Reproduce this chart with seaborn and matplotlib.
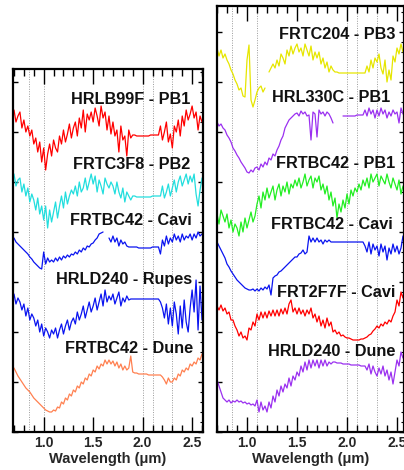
import numpy as np
import pandas as pd
import matplotlib
matplotlib.use("Agg")
import matplotlib.pyplot as plt
from matplotlib.ticker import MultipleLocator
import seaborn as sns

# Every spectrum is sampled evenly from wl_start to wl_stop (um), 0.02 um step
wl_start, wl_stop = 0.70, 2.60

# ---- left panel: stacked spectra (offset reflectance, arbitrary units) ----
hrlb99f_pb1 = [322, 310, 316, 320, 304, 312, 300, 306, 296, 302,
               288, 294, 280, 290, 270, 284, 262, 278, 288, 276,
               292, 284, 280, 296, 288, 302, 290, 298, 308, 294,
               304, 310, 296, 314, 304, 322, 300, 318, 312, 320,
               310, 324, 316, 306, 326, 314, 320, 302, 316, 298,
               310, 296, 302, 280, 306, 292, 296, 276, 302, 294,
               297, 297, 296, 296, 296, 296, 296, 296, 296, 297,
               297, 297, 297, 297, 306, 292, 300, 310, 290, 298,
               284, 306, 300, 312, 296, 316, 306, 322, 312, 318,
               326, 314, 320, 302, 316, 310]
frtc3f8_pb2 = [258, 246, 252, 254, 240, 248, 236, 244, 230, 238,
               232, 222, 234, 218, 226, 212, 226, 204, 222, 210,
               220, 230, 214, 226, 236, 224, 240, 228, 236, 242,
               238, 246, 236, 250, 240, 244, 254, 242, 250, 258,
               248, 256, 240, 252, 246, 238, 254, 248, 244, 250,
               246, 238, 250, 240, 234, 244, 230, 240, 236, 232,
               236, 236, 235, 235, 235, 235, 235, 235, 235, 235,
               236, 236, 236, 236, 236, 246, 234, 240, 248, 236,
               244, 252, 240, 250, 256, 246, 252, 258, 248, 256,
               250, 258, 238, 226, 242, 254]
frtbc42_cavi_l = [194, 190, 188, 186, 184, 182, 180, 178, 175, 173,
                  170, 168, 166, 164, 163, 180, 168, 174, 170, 172,
                  170, 174, 171, 175, 172, 176, 174, 177, 175, 178,
                  177, 180, 178, 182, 180, 184, 182, 186, 185, 188,
                  189, 192, 194, 198, 199, 200, np.nan, np.nan, 194, 190,
                  196, 190, 194, 186, 192, 188, 190, 186, 185, 185,
                  185, 185, 185, 184, 184, 184, 184, 184, 184, 184,
                  185, 185, 185, 185, 178, 192, 186, 196, 188, 194,
                  190, 198, 192, 196, 190, 198, 192, 196, 194, 198,
                  192, 198, 194, 200, 196, 198]
hrld240_rupes = [138, 128, 134, 130, 122, 128, 116, 124, 112, 118,
                 114, 106, 112, 100, 108, 96, 104, 100, 94, 102,
                 98, 104, 94, 102, 108, 98, 106, 112, 102, 110,
                 114, 108, 120, 112, 118, 126, 114, 122, 130, 120,
                 126, 134, 122, 130, 138, 126, 142, 130, 136, 132,
                 138, 128, 134, 140, 126, 134, 130, 136, 132, 133,
                 133, 133, 133, 133, 133, 133, 133, 133, 133, 133,
                 133, 133, 133, 133, 130, 124, 114, 128, 108, 124,
                 106, 130, 118, 98, 126, 104, 132, 110, 100, 124,
                 142, 120, 152, 102, 146, 112]
frtbc42_dune = [64, 60, 56, 53, 50, 47, 44, 42, 40, 37,
                34, 32, 30, 28, 26, 24, 22, 21, 20, 20,
                22, 21, 25, 24, 30, 28, 34, 32, 38, 36,
                42, 40, 46, 44, 50, 48, 54, 52, 58, 56,
                62, 60, 66, 63, 68, 66, 72, 68, 72, 68,
                71, 66, 70, 64, 68, 62, 66, 62, 64, 76,
                60, 59, 59, 58, 58, 58, 58, 58, 57, 57,
                57, 57, 57, 57, 57, 55, 52, 48, 54, 50,
                50, 54, 52, 58, 56, 62, 60, 64, 62, 68,
                66, 70, 68, 74, 72, 78]

# ---- right panel ----
frtc204_pb3 = [384, 376, 382, 374, 378, 372, 368, 362, 358, 352,
               348, 342, 344, 336, 335, 372, 387, 332, 325, 332,
               340, 344, 346, 340, 344, np.nan, 360, 364, 368, 364,
               372, 366, 378, 374, 368, 382, 376, 386, 378, 384,
               388, 380, 384, 376, 388, 382, 376, 386, 372, 380,
               374, 380, 368, 374, 364, 370, 360, 366, 362, 360,
               360, 359, 359, 359, 359, 359, 359, 359, 359, 359,
               359, 359, 359, 359, 359, 366, 360, 372, 364, 374,
               370, 378, 364, 358, 372, 350, 362, 352, 376, 370,
               384, 378, 388, 380, 386, 382]
hrl330c_pb1 = [310, 306, 308, 304, 302, 297, 294, 290, 284, 281,
               277, 274, 270, 267, 264, 260, 259, 262, 260, 264,
               265, 262, 268, 265, 270, 267, 274, 272, 278, 276,
               282, 286, 292, 296, 304, 308, 312, 314, 316, 318,
               319, 316, 321, 318, 320, 316, 317, 292, 320, 318,
               295, 322, 318, 320, 316, 320, 318, 314, 309, np.nan,
               np.nan, np.nan, np.nan, 316, 316, 316, 316, 316, 316, 316,
               317, 317, 317, 317, 322, 316, 324, 318, 322, 314,
               322, 316, 324, 318, 322, 314, 320, 316, 322, 318,
               320, 309, 324, 318, 322, 316]
frtbc42_pb1 = [218, 208, 222, 216, 210, 218, 204, 212, 200, 208,
               204, 196, 210, 200, 214, 204, 212, 220, 210, 216,
               228, 236, 224, 240, 232, 244, 234, 240, 246, 232,
               242, 248, 236, 246, 240, 250, 238, 248, 244, 252,
               246, 254, 244, 250, 258, 246, 252, 256, 244, 254,
               250, 256, 242, 248, 238, 246, 232, 240, 226, 234,
               214, 228, 220, 232, 224, 238, 228, 242, 236, 244,
               240, 248, 242, 252, 246, 254, 244, 258, 250, 254,
               258, 246, 256, 252, 248, 258, 250, 244, 254, 248,
               242, 252, 238, 246, 236, 244]
frtbc42_cavi_r = [190, 186, 182, 178, 174, 168, 165, 161, 158, 155,
                  152, 150, 148, 146, 144, 143, 142, 142, 143, 141,
                  143, 141, 144, 142, 145, 143, 147, 137, 154, 156,
                  157, 160, 161, 163, 165, 167, 169, 171, 173, 175,
                  175, 178, 179, 182, 178, 180, 196, 190, 194, 190,
                  194, 190, 192, 188, 192, 190, 192, 190, 190, 190,
                  190, 190, 190, 190, 190, 190, 190, 190, 190, 190,
                  190, 190, 190, 190, 186, 180, 190, 178, 188, 182,
                  186, 176, 188, 180, 186, 172, 184, 178, 188, 180,
                  186, 178, 184, 196, 190, 194]
frt2f7f_cavi = [126, 122, 127, 121, 124, 118, 120, 112, 112, 106,
                102, 96, 100, 94, 96, 92, 104, 102, 110, 106,
                118, 112, 120, 114, 120, 114, 121, 116, 122, 116,
                122, 116, 123, 118, 124, 118, 128, 132, 120, 124,
                118, 124, 118, 122, 116, 122, 118, 124, 114, 118,
                110, 116, 106, 112, 104, 114, 106, 110, 100, 102,
                98, 100, 96, 97, 95, 94, 94, 93, 92, 92,
                92, 92, 93, 93, 94, 95, 97, 98, 101, 103,
                106, 104, 108, 106, 110, 108, 112, 110, 116, 120,
                132, 126, 140, 134, 146, 140]
hrld240_dune = [52, 46, 40, 34, 32, 30, 32, 29, 31, 30,
                32, 30, 31, 29, 30, 28, 29, 27, 28, 26,
                32, 20, 30, 22, 26, 20, 30, 24, 36, 30,
                42, 36, 46, 40, 48, 44, 54, 46, 56, 52,
                60, 56, 66, 60, 70, 62, 72, 64, 72, 66,
                72, 64, 72, 66, 72, 66, 70, 68, 70, 70,
                69, 69, 69, 68, 68, 68, 68, 67, 67, 67,
                67, 67, 66, 66, 66, 62, 68, 58, 66, 60,
                56, 64, 58, 66, 56, 62, 52, 60, 48, 60,
                72, 66, 80, 74, 78, 80]

left_spectra = [hrlb99f_pb1, frtc3f8_pb2, frtbc42_cavi_l, hrld240_rupes, frtbc42_dune]
left_names = ["HRLB99F - PB1", "FRTC3F8 - PB2", "FRTBC42 - Cavi",
              "HRLD240 - Rupes", "FRTBC42 - Dune"]
left_colors = ["#ff0000", "#22dede", "#0a14f0", "#0a14f0", "#ff8050"]

right_spectra = [frtc204_pb3, hrl330c_pb1, frtbc42_pb1, frtbc42_cavi_r, frt2f7f_cavi, hrld240_dune]
right_names = ["FRTC204 - PB3", "HRL330C - PB1", "FRTBC42 - PB1",
               "FRTBC42 - Cavi", "FRT2F7F - Cavi", "HRLD240 - Dune"]
right_colors = ["#e6e600", "#9b30f0", "#22ee22", "#0a14f0", "#ff0000", "#9b30f0"]

# absorption band positions marked by dotted lines (um)
left_bands = [0.85, 1.0, 2.0, 2.1, 2.3]
right_bands = [0.85, 1.1, 2.0, 2.1, 2.3]

# label anchors (axes fraction, right aligned)
left_label_pos = [(0.932, 0.917), (0.932, 0.736), (0.942, 0.584), (0.942, 0.419), (0.947, 0.231)]
right_label_pos = [(0.954, 0.932), (0.928, 0.786), (0.954, 0.631), (0.944, 0.486),
                   (0.954, 0.328), (0.954, 0.190)]

sns.set_theme(style="ticks")
plt.rcParams["font.family"] = ["Liberation Sans", "DejaVu Sans"]
plt.rcParams["font.weight"] = "bold"
plt.rcParams["axes.labelweight"] = "bold"


def draw_spectrum(ax, values, color):
    vals = np.asarray(values, dtype=float)
    df = pd.DataFrame({"wl": np.linspace(wl_start, wl_stop, len(vals)), "refl": vals})
    seg = df["refl"].isna().cumsum()
    ok = df.dropna()
    for _, part in ok.groupby(seg[ok.index]):
        sns.lineplot(data=part, x="wl", y="refl", ax=ax, color=color, lw=0.9,
                     estimator=None, sort=False, legend=False)


fig = plt.figure(figsize=(4.04, 4.70), dpi=100)
ax_l = fig.add_axes([13 / 404, 38 / 470, 190 / 404, 363 / 470])
ax_r = fig.add_axes([217 / 404, 38 / 470, 186.5 / 404, 426 / 470])

panels = [
    (ax_l, left_spectra, left_names, left_colors, left_bands, left_label_pos, (0.69, 2.61), (0, 363)),
    (ax_r, right_spectra, right_names, right_colors, right_bands, right_label_pos, (0.70, 2.565), (0, 426)),
]

for ax, spectra, names, colors, bands, label_pos, xlim, ylim in panels:
    for b in bands:
        ax.axvline(b, color="#9a9a9a", lw=0.7, ls=(0, (1, 1.5)), zorder=0)
    for vals, c in zip(spectra, colors):
        draw_spectrum(ax, vals, c)
    for name, (tx, ty) in zip(names, label_pos):
        ax.text(tx, ty, name, transform=ax.transAxes, ha="right", va="center",
                fontsize=11.7, fontweight="bold", color="#111111")

    ax.set_xlim(*xlim)
    ax.set_ylim(*ylim)
    ax.xaxis.set_major_locator(MultipleLocator(0.5))
    ax.xaxis.set_minor_locator(MultipleLocator(0.1))
    ax.yaxis.set_major_locator(MultipleLocator(50))
    ax.yaxis.set_minor_locator(MultipleLocator(10))
    ax.tick_params(axis="x", which="major", direction="in", top=True, bottom=True,
                   length=10.8, width=1.0, pad=3, labelsize=10, color="black")
    ax.tick_params(axis="x", which="minor", direction="in", top=True, bottom=True,
                   length=5, width=1.0, color="black")
    ax.tick_params(axis="y", which="major", direction="in", left=True, right=True,
                   length=3.5, width=1.0, labelleft=False, color="black")
    ax.tick_params(axis="y", which="minor", direction="in", left=False, right=True,
                   length=2.5, width=0.8, color="black")
    for s in ax.spines.values():
        s.set_linewidth(1.6)
        s.set_color("black")
    ax.set_xlabel("Wavelength (μm)", fontsize=10.5, fontweight="bold", labelpad=1)
    ax.set_ylabel("")

fig.savefig("out.png", dpi=100)
